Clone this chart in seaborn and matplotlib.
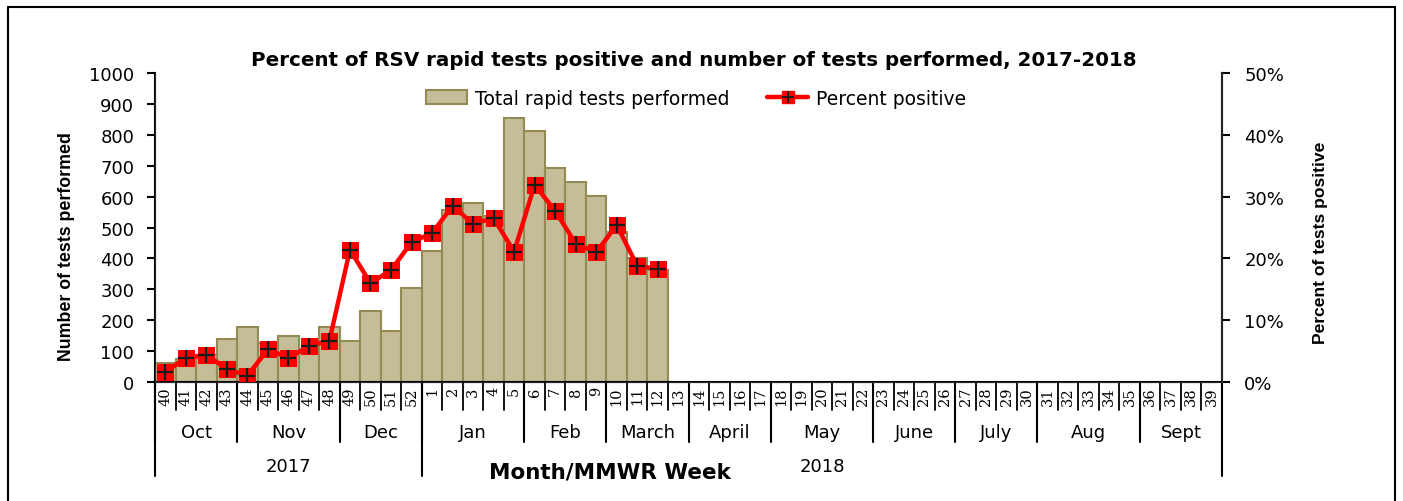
import numpy as np
import pandas as pd
import matplotlib
matplotlib.use("Agg")
import matplotlib.pyplot as plt
import seaborn as sns
from matplotlib.lines import Line2D
from matplotlib.patches import Patch
from matplotlib.ticker import FuncFormatter
import matplotlib.transforms as mtransforms


WEEKS = [str(w) for w in list(range(40, 53)) + list(range(1, 40))]
TESTS = [60, 75, 88, 140, 178, 125, 149, 103, 178, 132, 230, 164, 303,
         423, 557, 578, 537, 853, 814, 693, 646, 601, 484, 402, 364]
PCT = [1.6, 3.9, 4.4, 2.1, 1.0, 5.3, 3.9, 5.8, 6.7, 21.4, 16.0, 18.1, 22.6,
       24.1, 28.5, 25.6, 26.5, 21.1, 31.9, 27.7, 22.4, 21.0, 25.4, 18.8, 18.3]
MONTHS = ["Oct", "Nov", "Dec", "Jan", "Feb", "March", "April", "May",
          "June", "July", "Aug", "Sept"]
MONTH_WEEKS = [4, 5, 4, 5, 4, 4, 4, 5, 4, 4, 5, 4]
YEARS = ["2017", "2018"]
YEAR_WEEKS = [13, 39]

BAR_FILL = "#C4BD97"
BAR_EDGE = "#948A54"
LABEL_FONT = ["Liberation Sans", "DejaVu Sans"]

sns.set_style("ticks")
plt.rcParams["font.family"] = ["DejaVu Sans"]
for key in ["text.color", "axes.labelcolor", "xtick.color", "ytick.color"]:
    plt.rcParams[key] = "black"

n = len(TESTS)
df = pd.DataFrame({
    "week": WEEKS[:n],
    "pos": np.arange(n),
    "tests": TESTS,
    "pct": PCT,
})

fig = plt.figure(figsize=(14.03, 5.02), dpi=100)
ax = fig.add_axes([0.1105, 0.237, 0.7605, 0.6155])

sns.barplot(data=df, x="week", y="tests", order=WEEKS, ax=ax, width=1.0,
            color=BAR_FILL, saturation=1, edgecolor=BAR_EDGE, linewidth=1.5)

ax.set_xlim(-0.5, len(WEEKS) - 0.5)
ax.set_ylim(0, 1000)
ax.set_yticks(range(0, 1001, 100))
ax.tick_params(axis="y", labelsize=13, length=6, width=1.5, direction="out", pad=9)
ax.set_xticks(range(len(WEEKS)))
ax.set_xticklabels(WEEKS, rotation=90, fontsize=10.5, family="DejaVu Serif")
ax.tick_params(axis="x", length=0, pad=3)
ax.set_xlabel("")
ax.set_ylabel("Number of tests performed", fontsize=12.8, fontweight="bold",
              family=LABEL_FONT, labelpad=10)
ax.yaxis.label.set_y(0.443)
for s in ["left", "bottom", "right"]:
    ax.spines[s].set_linewidth(1.5)
    ax.spines[s].set_color("black")
ax.spines["top"].set_visible(False)

ax2 = ax.twinx()
sns.lineplot(data=df, x="pos", y="pct", ax=ax2, color="red", linewidth=3.2,
             marker="s", markersize=12, markeredgecolor="red")
ax2.plot(df["pos"], df["pct"], "+", color="#1a1a1a", markersize=11, markeredgewidth=1.6)
ax2.set_ylim(0, 50)
ax2.set_yticks(range(0, 51, 10))
ax2.yaxis.set_major_formatter(FuncFormatter(lambda v, p: f"{v:.0f}%"))
ax2.tick_params(axis="y", labelsize=13, length=6, width=1.5, direction="out", pad=10)
ax2.set_ylabel("Percent of tests positive", fontsize=12.6, fontweight="bold",
               family=LABEL_FONT, labelpad=21)
ax2.yaxis.label.set_y(0.453)
ax2.spines["top"].set_visible(False)
ax2.spines["right"].set_linewidth(1.5)
ax2.set_xlim(-0.5, len(WEEKS) - 0.5)

# category box lines below the axis
trans = mtransforms.blended_transform_factory(ax.transData, ax.transAxes)
for i in range(len(WEEKS) + 1):
    ax.plot([i - 0.5, i - 0.5], [0, -0.09], color="black", lw=1.3,
            transform=trans, clip_on=False)
edge = -0.5
for m, k in zip(MONTHS, MONTH_WEEKS):
    ax.plot([edge, edge], [0, -0.194], color="black", lw=1.5,
            transform=trans, clip_on=False)
    ax.text(edge + k / 2, -0.162, m, transform=trans, ha="center", va="center",
            fontsize=13)
    edge += k
edge = -0.5
for y, k in zip(YEARS, YEAR_WEEKS):
    ax.plot([edge, edge], [0, -0.304], color="black", lw=1.5,
            transform=trans, clip_on=False)
    ax.text(edge + k / 2, -0.272, y, transform=trans, ha="center", va="center",
            fontsize=13)
    edge += k
ax.plot([edge, edge], [0, -0.304], color="black", lw=1.5,
        transform=trans, clip_on=False)

ax.text(0.426, -0.29, "Month/MMWR Week", transform=ax.transAxes, ha="center",
        va="center", fontsize=15.5, fontweight="bold")

ax.set_title("Percent of RSV rapid tests positive and number of tests performed, 2017-2018",
             fontsize=14.3, fontweight="bold", pad=6, x=0.505)

handles = [Patch(facecolor=BAR_FILL, edgecolor=BAR_EDGE, linewidth=1.5),
           (Line2D([], [], color="red", lw=3.2, marker="s", ms=9, mec="red"),
            Line2D([], [], ls="", marker="+", color="#1a1a1a", ms=9, mew=1.4))]
ax2.legend(handles, ["Total rapid tests performed", "Percent positive"],
           loc="center", bbox_to_anchor=(0.507, 0.919), ncol=2, frameon=False,
           fontsize=13.5, columnspacing=2.0, handlelength=2.2, handletextpad=0.4)

# outer frame of the chart
for xs, ys in [([8 / 1403, 1395 / 1403], [494 / 502, 494 / 502]),
               ([8 / 1403, 8 / 1403], [0, 494 / 502]),
               ([1395 / 1403, 1395 / 1403], [0, 494 / 502])]:
    fig.add_artist(Line2D(xs, ys, color="black", lw=1.5, transform=fig.transFigure))

fig.savefig("out.png", dpi=100)
